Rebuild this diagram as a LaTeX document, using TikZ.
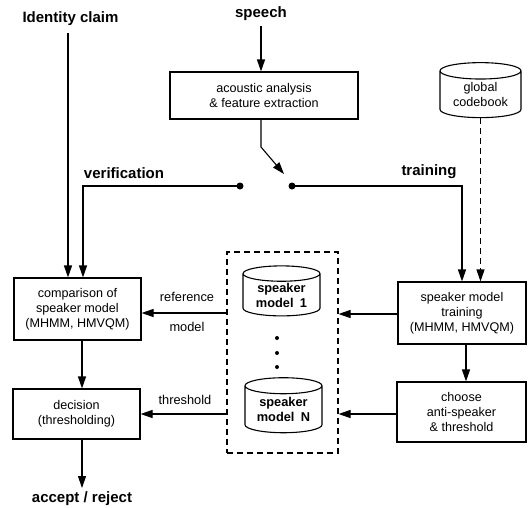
\documentclass[tikz,border=0pt]{standalone}
\usepackage{fontspec}
\setmainfont{Liberation Sans}
\usetikzlibrary{arrows.meta,shapes.geometric}
\begin{document}
\begin{tikzpicture}[x=1pt,y=-1pt,
  line width=1.1pt,
  >={Triangle[length=12pt,width=8pt]},
  box/.style={draw,rectangle,align=center,inner sep=0pt,font=\fontsize{12.6}{15}\selectfont},
  lbl/.style={font=\fontsize{15}{18}\selectfont\bfseries,inner sep=0pt},
  small/.style={font=\fontsize{12.8}{15}\selectfont,inner sep=0pt},
  db/.style={draw,cylinder,shape border rotate=90,aspect=0.3,align=center,inner sep=0pt},
  dot/.style={circle,fill,inner sep=0pt,minimum size=7pt},
  mdash/.style={dash pattern=on 6pt off 4pt}]
\useasboundingbox (0,0) rectangle (528,507);
% boxes
\node[box,minimum width=188pt,minimum height=47pt] (ac) at (264,95.5) {acoustic analysis\\\& feature extraction};
\node[box,minimum width=127pt,minimum height=62pt] (cmp) at (77.5,309) {comparison of\\speaker model\\(MHMM, HMVQM)};
\node[box,minimum width=127pt,minimum height=50pt] (dec) at (76.5,414) {decision\\(thresholding)};
\node[box,minimum width=128pt,minimum height=62pt] (trn) at (462,313) {speaker model\\training\\(MHMM, HMVQM)};
\node[box,minimum width=129pt,minimum height=60pt] (cho) at (461.5,412) {choose\\anti-speaker\\\& threshold};
\node[draw,mdash,rectangle,minimum width=111pt,minimum height=201pt,inner sep=0pt] (grp) at (282.5,352.5) {};
% cylinders
\node[db,minimum width=77pt,minimum height=50pt,font=\fontsize{12.8}{15}\selectfont\bfseries] (m1) at (281.5,295) {speaker\\model\enspace 1};
\node[db,minimum width=77pt,minimum height=55pt,font=\fontsize{12.8}{15}\selectfont\bfseries] (mN) at (283.5,409.5) {speaker\\model\enspace N};
\node[db,minimum width=81pt,minimum height=55pt,font=\fontsize{12.6}{15}\selectfont] (gc) at (480.5,94.5) {global\\codebook};
% dots between models
\node[circle,fill,inner sep=0pt,minimum size=4pt] (d1) at (277,338) {};
\node[circle,fill,inner sep=0pt,minimum size=4pt] (d2) at (277,353) {};
\node[circle,fill,inner sep=0pt,minimum size=4pt] (d3) at (277,367) {};
% labels
\node[lbl] (id) at (70.5,19) {Identity claim};
\node[lbl] (sp) at (261,14) {speech};
\node[lbl] (ver) at (124,173) {verification};
\node[lbl] (tr) at (429,172) {training};
\node[lbl] (ar) at (82,499) {accept / reject};
\node[small] (ref) at (187,297) {reference};
\node[small] (mod) at (187,327) {model};
\node[small] (thr) at (185,400) {threshold};
% switch
\node[dot] (sl) at (240,186) {};
\node[dot] (sr) at (292,186) {};
\coordinate (idtop) at (68,33);
\coordinate (sptop) at (261,26);
\coordinate (bend) at (261,147);
\coordinate (tip) at (284,174);
% connectors
\draw[->] (sptop) -- (ac.north -| sptop);
\draw[->] (ac.south -| bend) -- (bend) -- (tip);
\draw[->] (idtop) -- (cmp.north -| idtop);
\draw[->] (sl.center) -- (83,186) -- (cmp.north -| 83,0);
\draw[->] (sr.center) -- (462,186) -- (trn.north -| 462,0);
\draw[->,mdash] (gc.south) -- (trn.north -| gc.south);
\draw[->] (cmp.south -| 82,0) -- (dec.north -| 82,0);
\draw[->] (dec.south -| 82,0) -- (82,488);
\draw[->] (trn.south -| 466,0) -- (cho.north -| 466,0);
\draw[->] (grp.west |- 0,313) -- (cmp.east |- 0,313);
\draw[->] (grp.west |- 0,414) -- (dec.east |- 0,414);
\draw[->] (trn.west |- 0,314) -- (grp.east |- 0,314);
\draw[->] (cho.west |- 0,414) -- (grp.east |- 0,414);
\end{tikzpicture}
\end{document}
